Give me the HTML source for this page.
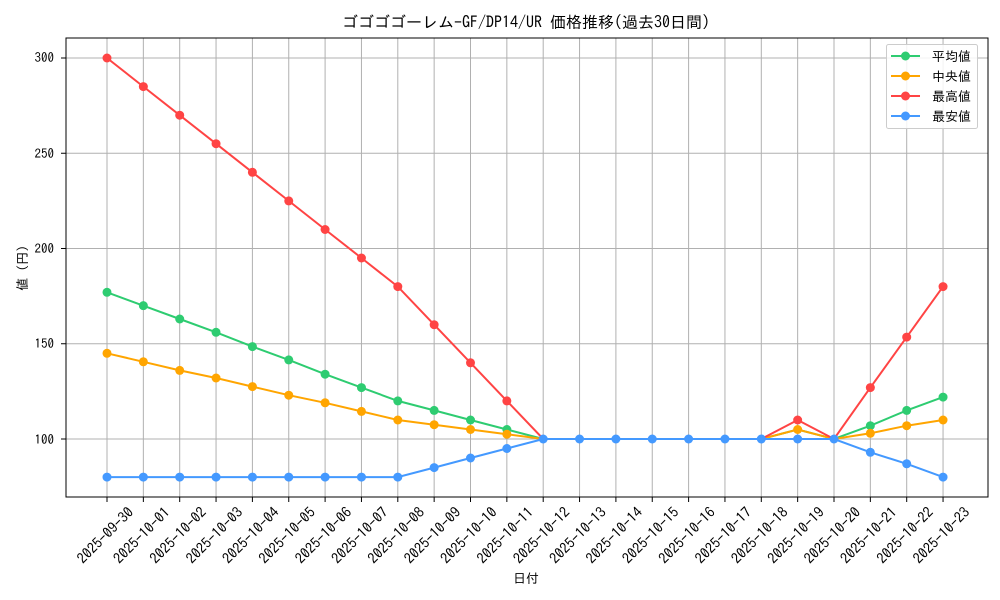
<!DOCTYPE html>
<html><head><meta charset="utf-8"><style>
body{margin:0;background:#fff}
svg{display:block;font-family:"IPAGothic","Liberation Sans","Noto Sans CJK JP",sans-serif}
</style></head><body>
<svg width="1000" height="600" viewBox="0 0 1000 600" xmlns="http://www.w3.org/2000/svg">
<rect width="1000" height="600" fill="#fff"/>
<g stroke="#b0b0b0" stroke-width="1">
<line x1="107" y1="38" x2="107" y2="497"/><line x1="143.35" y1="38" x2="143.35" y2="497"/><line x1="179.7" y1="38" x2="179.7" y2="497"/><line x1="216.05" y1="38" x2="216.05" y2="497"/><line x1="252.4" y1="38" x2="252.4" y2="497"/><line x1="288.75" y1="38" x2="288.75" y2="497"/><line x1="325.1" y1="38" x2="325.1" y2="497"/><line x1="361.45" y1="38" x2="361.45" y2="497"/><line x1="397.8" y1="38" x2="397.8" y2="497"/><line x1="434.15" y1="38" x2="434.15" y2="497"/><line x1="470.5" y1="38" x2="470.5" y2="497"/><line x1="506.85" y1="38" x2="506.85" y2="497"/><line x1="543.2" y1="38" x2="543.2" y2="497"/><line x1="579.55" y1="38" x2="579.55" y2="497"/><line x1="615.9" y1="38" x2="615.9" y2="497"/><line x1="652.25" y1="38" x2="652.25" y2="497"/><line x1="688.6" y1="38" x2="688.6" y2="497"/><line x1="724.95" y1="38" x2="724.95" y2="497"/><line x1="761.3" y1="38" x2="761.3" y2="497"/><line x1="797.65" y1="38" x2="797.65" y2="497"/><line x1="834" y1="38" x2="834" y2="497"/><line x1="870.35" y1="38" x2="870.35" y2="497"/><line x1="906.7" y1="38" x2="906.7" y2="497"/><line x1="943.05" y1="38" x2="943.05" y2="497"/>
<line x1="66" y1="439" x2="988" y2="439"/><line x1="66" y1="343.75" x2="988" y2="343.75"/><line x1="66" y1="248.5" x2="988" y2="248.5"/><line x1="66" y1="153.25" x2="988" y2="153.25"/><line x1="66" y1="58" x2="988" y2="58"/>
</g>
<rect x="66" y="38" width="922" height="459" fill="none" stroke="#000" stroke-width="1"/>
<g stroke="#000"><line x1="61" y1="439" x2="66" y2="439"/><line x1="61" y1="343.75" x2="66" y2="343.75"/><line x1="61" y1="248.5" x2="66" y2="248.5"/><line x1="61" y1="153.25" x2="66" y2="153.25"/><line x1="61" y1="58" x2="66" y2="58"/>
<line x1="107" y1="497" x2="107" y2="502"/><line x1="143.35" y1="497" x2="143.35" y2="502"/><line x1="179.7" y1="497" x2="179.7" y2="502"/><line x1="216.05" y1="497" x2="216.05" y2="502"/><line x1="252.4" y1="497" x2="252.4" y2="502"/><line x1="288.75" y1="497" x2="288.75" y2="502"/><line x1="325.1" y1="497" x2="325.1" y2="502"/><line x1="361.45" y1="497" x2="361.45" y2="502"/><line x1="397.8" y1="497" x2="397.8" y2="502"/><line x1="434.15" y1="497" x2="434.15" y2="502"/><line x1="470.5" y1="497" x2="470.5" y2="502"/><line x1="506.85" y1="497" x2="506.85" y2="502"/><line x1="543.2" y1="497" x2="543.2" y2="502"/><line x1="579.55" y1="497" x2="579.55" y2="502"/><line x1="615.9" y1="497" x2="615.9" y2="502"/><line x1="652.25" y1="497" x2="652.25" y2="502"/><line x1="688.6" y1="497" x2="688.6" y2="502"/><line x1="724.95" y1="497" x2="724.95" y2="502"/><line x1="761.3" y1="497" x2="761.3" y2="502"/><line x1="797.65" y1="497" x2="797.65" y2="502"/><line x1="834" y1="497" x2="834" y2="502"/><line x1="870.35" y1="497" x2="870.35" y2="502"/><line x1="906.7" y1="497" x2="906.7" y2="502"/><line x1="943.05" y1="497" x2="943.05" y2="502"/>
</g>
<g font-size="13" text-anchor="end" fill="#000">
<text x="54" y="444">100</text><text x="54" y="348">150</text><text x="54" y="253">200</text><text x="54" y="158">250</text><text x="54" y="62">300</text>
</g>
<g font-size="14.5" text-anchor="middle" dominant-baseline="central" fill="#000">
<text transform="translate(105,535) rotate(-45)">2025-09-30</text>
<text transform="translate(141.35,535) rotate(-45)">2025-10-01</text>
<text transform="translate(177.7,535) rotate(-45)">2025-10-02</text>
<text transform="translate(214.05,535) rotate(-45)">2025-10-03</text>
<text transform="translate(250.4,535) rotate(-45)">2025-10-04</text>
<text transform="translate(286.75,535) rotate(-45)">2025-10-05</text>
<text transform="translate(323.1,535) rotate(-45)">2025-10-06</text>
<text transform="translate(359.45,535) rotate(-45)">2025-10-07</text>
<text transform="translate(395.8,535) rotate(-45)">2025-10-08</text>
<text transform="translate(432.15,535) rotate(-45)">2025-10-09</text>
<text transform="translate(468.5,535) rotate(-45)">2025-10-10</text>
<text transform="translate(504.85,535) rotate(-45)">2025-10-11</text>
<text transform="translate(541.2,535) rotate(-45)">2025-10-12</text>
<text transform="translate(577.55,535) rotate(-45)">2025-10-13</text>
<text transform="translate(613.9,535) rotate(-45)">2025-10-14</text>
<text transform="translate(650.25,535) rotate(-45)">2025-10-15</text>
<text transform="translate(686.6,535) rotate(-45)">2025-10-16</text>
<text transform="translate(722.95,535) rotate(-45)">2025-10-17</text>
<text transform="translate(759.3,535) rotate(-45)">2025-10-18</text>
<text transform="translate(795.65,535) rotate(-45)">2025-10-19</text>
<text transform="translate(832,535) rotate(-45)">2025-10-20</text>
<text transform="translate(868.35,535) rotate(-45)">2025-10-21</text>
<text transform="translate(904.7,535) rotate(-45)">2025-10-22</text>
<text transform="translate(941.05,535) rotate(-45)">2025-10-23</text>
</g>
<text x="526" y="583" font-size="13" text-anchor="middle">日付</text>
<text transform="translate(27,268) rotate(-90)" font-size="13" text-anchor="middle">値 (円)</text>
<text x="526" y="28" font-size="16" text-anchor="middle">ゴゴゴゴーレム-GF/DP14/UR 価格推移(過去30日間)</text>

<g fill="none" stroke-width="2">
<polyline stroke="#2ecc71" points="107,292.3 143.35,305.65 179.7,319 216.05,332.3 252.4,346.6 288.75,359.9 325.1,374.2 361.45,387.6 397.8,400.9 434.15,410.4 470.5,420 506.85,429.5 543.2,439 579.55,439 615.9,439 652.25,439 688.6,439 724.95,439 761.3,439 797.65,429.5 834,439 870.35,425.7 906.7,410.4 943.05,397.1"/>
<polyline stroke="#ffa500" points="107,353.3 143.35,361.8 179.7,370.4 216.05,378 252.4,386.6 288.75,395.2 325.1,402.8 361.45,411.4 397.8,420 434.15,424.7 470.5,429.5 506.85,434.2 543.2,439 579.55,439 615.9,439 652.25,439 688.6,439 724.95,439 761.3,439 797.65,429.5 834,439 870.35,433.3 906.7,425.7 943.05,420"/>
<polyline stroke="#ff4444" points="107,58 143.35,86.6 179.7,115.2 216.05,143.7 252.4,172.3 288.75,200.9 325.1,229.5 361.45,258 397.8,286.6 434.15,324.7 470.5,362.8 506.85,400.9 543.2,439 579.55,439 615.9,439 652.25,439 688.6,439 724.95,439 761.3,439 797.65,420 834,439 870.35,387.6 906.7,337.1 943.05,286.6"/>
<polyline stroke="#4499ff" points="107,477.1 143.35,477.1 179.7,477.1 216.05,477.1 252.4,477.1 288.75,477.1 325.1,477.1 361.45,477.1 397.8,477.1 434.15,467.6 470.5,458 506.85,448.5 543.2,439 579.55,439 615.9,439 652.25,439 688.6,439 724.95,439 761.3,439 797.65,439 834,439 870.35,452.3 906.7,463.8 943.05,477.1"/>
</g>
<g fill="#2ecc71">
<circle cx="107" cy="292.3" r="4.5"/><circle cx="143.35" cy="305.65" r="4.5"/><circle cx="179.7" cy="319" r="4.5"/><circle cx="216.05" cy="332.3" r="4.5"/><circle cx="252.4" cy="346.6" r="4.5"/><circle cx="288.75" cy="359.9" r="4.5"/><circle cx="325.1" cy="374.2" r="4.5"/><circle cx="361.45" cy="387.6" r="4.5"/><circle cx="397.8" cy="400.9" r="4.5"/><circle cx="434.15" cy="410.4" r="4.5"/><circle cx="470.5" cy="420" r="4.5"/><circle cx="506.85" cy="429.5" r="4.5"/><circle cx="870.35" cy="425.7" r="4.5"/><circle cx="906.7" cy="410.4" r="4.5"/><circle cx="943.05" cy="397.1" r="4.5"/>
</g>
<g fill="#ffa500">
<circle cx="107" cy="353.3" r="4.5"/><circle cx="143.35" cy="361.8" r="4.5"/><circle cx="179.7" cy="370.4" r="4.5"/><circle cx="216.05" cy="378" r="4.5"/><circle cx="252.4" cy="386.6" r="4.5"/><circle cx="288.75" cy="395.2" r="4.5"/><circle cx="325.1" cy="402.8" r="4.5"/><circle cx="361.45" cy="411.4" r="4.5"/><circle cx="397.8" cy="420" r="4.5"/><circle cx="434.15" cy="424.7" r="4.5"/><circle cx="470.5" cy="429.5" r="4.5"/><circle cx="506.85" cy="434.2" r="4.5"/><circle cx="797.65" cy="429.5" r="4.5"/><circle cx="870.35" cy="433.3" r="4.5"/><circle cx="906.7" cy="425.7" r="4.5"/><circle cx="943.05" cy="420" r="4.5"/>
</g>
<g fill="#ff4444">
<circle cx="107" cy="58" r="4.5"/><circle cx="143.35" cy="86.6" r="4.5"/><circle cx="179.7" cy="115.2" r="4.5"/><circle cx="216.05" cy="143.7" r="4.5"/><circle cx="252.4" cy="172.3" r="4.5"/><circle cx="288.75" cy="200.9" r="4.5"/><circle cx="325.1" cy="229.5" r="4.5"/><circle cx="361.45" cy="258" r="4.5"/><circle cx="397.8" cy="286.6" r="4.5"/><circle cx="434.15" cy="324.7" r="4.5"/><circle cx="470.5" cy="362.8" r="4.5"/><circle cx="506.85" cy="400.9" r="4.5"/><circle cx="797.65" cy="420" r="4.5"/><circle cx="870.35" cy="387.6" r="4.5"/><circle cx="906.7" cy="337.1" r="4.5"/><circle cx="943.05" cy="286.6" r="4.5"/>
</g>
<g fill="#4499ff">
<circle cx="107" cy="477.1" r="4.5"/><circle cx="143.35" cy="477.1" r="4.5"/><circle cx="179.7" cy="477.1" r="4.5"/><circle cx="216.05" cy="477.1" r="4.5"/><circle cx="252.4" cy="477.1" r="4.5"/><circle cx="288.75" cy="477.1" r="4.5"/><circle cx="325.1" cy="477.1" r="4.5"/><circle cx="361.45" cy="477.1" r="4.5"/><circle cx="397.8" cy="477.1" r="4.5"/><circle cx="434.15" cy="467.6" r="4.5"/><circle cx="470.5" cy="458" r="4.5"/><circle cx="506.85" cy="448.5" r="4.5"/><circle cx="543.2" cy="439" r="4.5"/><circle cx="579.55" cy="439" r="4.5"/><circle cx="615.9" cy="439" r="4.5"/><circle cx="652.25" cy="439" r="4.5"/><circle cx="688.6" cy="439" r="4.5"/><circle cx="724.95" cy="439" r="4.5"/><circle cx="761.3" cy="439" r="4.5"/><circle cx="797.65" cy="439" r="4.5"/><circle cx="834" cy="439" r="4.5"/><circle cx="870.35" cy="452.3" r="4.5"/><circle cx="906.7" cy="463.8" r="4.5"/><circle cx="943.05" cy="477.1" r="4.5"/>
</g>

<rect x="886.5" y="44.5" width="91" height="84" rx="2" fill="#fff" fill-opacity="0.85" stroke="#ccc"/>
<g stroke-width="2">
<line x1="891" y1="56" x2="920" y2="56" stroke="#2ecc71"/><circle cx="905.5" cy="56" r="4.5" fill="#2ecc71"/>
<line x1="891" y1="76" x2="920" y2="76" stroke="#ffa500"/><circle cx="905.5" cy="76" r="4.5" fill="#ffa500"/>
<line x1="891" y1="96" x2="920" y2="96" stroke="#ff4444"/><circle cx="905.5" cy="96" r="4.5" fill="#ff4444"/>
<line x1="891" y1="116" x2="920" y2="116" stroke="#4499ff"/><circle cx="905.5" cy="116" r="4.5" fill="#4499ff"/>
</g>
<g font-size="13"><text x="932" y="61">平均値</text><text x="932" y="81">中央値</text><text x="932" y="101">最高値</text><text x="932" y="121">最安値</text></g>
</svg>
</body></html>
